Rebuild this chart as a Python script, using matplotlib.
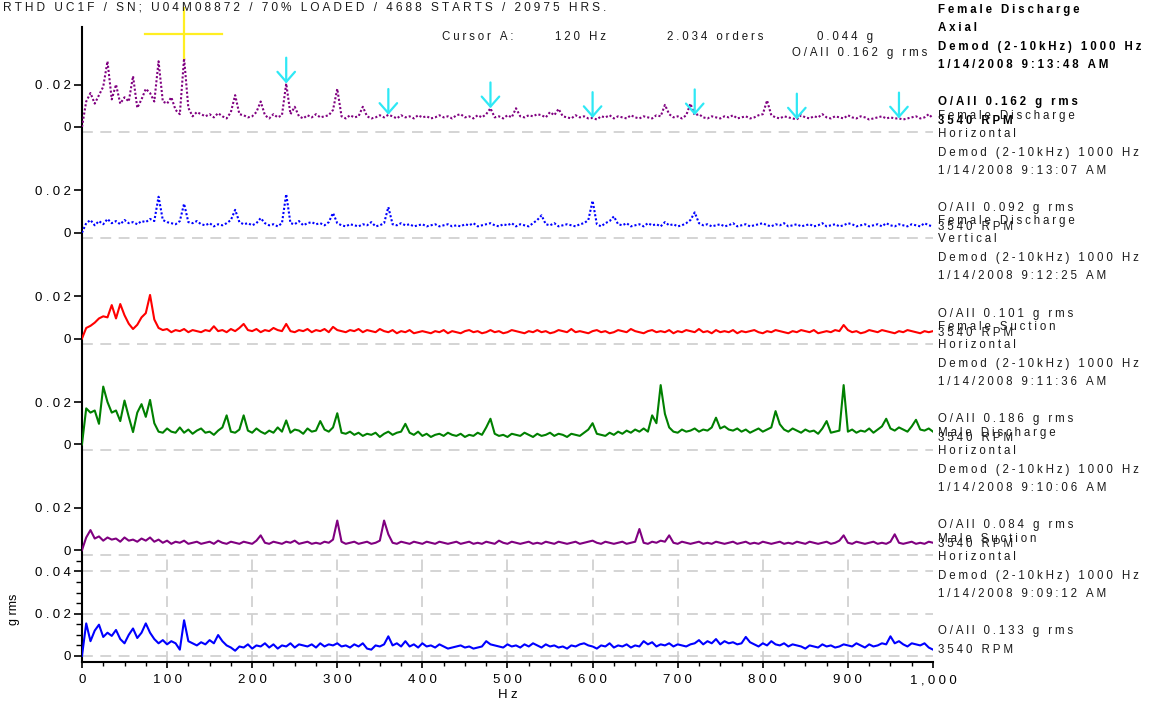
import numpy as np
import matplotlib
matplotlib.use('Agg')
import matplotlib.pyplot as plt

plt.rcParams.update({
    "font.family": ["Liberation Sans", "DejaVu Sans"],
    "font.size": 9,
    "axes.linewidth": 1.5,
})

# spectra amplitudes in units of 1e-4 g rms, 5 Hz lines from 0 to 1000 Hz
fd_axial = [
    0, 120, 160, 110, 150, 190, 310, 130, 200, 110, 140, 120, 240, 90, 130, 180, 160, 120, 310, 120,
    110, 140, 80, 60, 325, 90, 50, 70, 60, 50, 60, 45, 65, 50, 40, 70, 150, 60, 55, 45,
    50, 70, 120, 55, 40, 60, 45, 55, 205, 60, 95, 50, 40, 55, 45, 60, 45, 50, 55, 80,
    180, 50, 40, 55, 45, 50, 95, 50, 40, 45, 55, 45, 57, 50, 40, 55, 45, 50, 40, 55,
    45, 50, 40, 45, 55, 45, 50, 40, 55, 60, 45, 50, 40, 55, 45, 60, 88, 45, 50, 40,
    55, 45, 88, 50, 45, 55, 50, 60, 55, 45, 70, 55, 85, 50, 45, 40, 55, 45, 50, 40,
    42, 35, 50, 45, 55, 40, 50, 45, 40, 55, 45, 40, 50, 45, 40, 55, 50, 104, 60, 45,
    50, 40, 55, 110, 55, 60, 45, 40, 50, 45, 40, 50, 45, 55, 40, 45, 50, 40, 45, 55,
    60, 125, 55, 45, 40, 50, 45, 40, 35, 55, 45, 40, 50, 45, 60, 45, 40, 50, 45, 40,
    55, 45, 40, 50, 45, 35, 40, 45, 50, 40, 45, 40, 40, 35, 40, 45, 50, 40, 45, 60,
    40,
]
fd_horiz = [
    0, 45, 60, 35, 55, 40, 65, 45, 55, 40, 60, 45, 50, 40, 55, 50, 65, 55, 170, 60,
    50, 45, 40, 55, 137, 50, 45, 55, 40, 35, 45, 30, 40, 35, 45, 60, 108, 50, 40, 45,
    35, 45, 69, 45, 35, 40, 30, 45, 182, 45, 40, 55, 35, 45, 50, 40, 45, 35, 50, 93,
    45, 35, 30, 40, 35, 30, 40, 35, 50, 30, 35, 45, 121, 40, 35, 45, 35, 40, 30, 35,
    40, 30, 35, 40, 30, 35, 40, 30, 35, 30, 40, 35, 45, 30, 35, 40, 45, 35, 30, 40,
    35, 45, 30, 40, 35, 30, 45, 60, 82, 40, 35, 45, 30, 35, 40, 35, 30, 40, 45, 60,
    151, 40, 30, 45, 55, 77, 40, 35, 45, 30, 35, 40, 30, 45, 35, 40, 30, 50, 35, 40,
    30, 35, 45, 60, 96, 45, 35, 40, 30, 35, 40, 30, 35, 45, 30, 35, 40, 30, 35, 40,
    45, 35, 30, 40, 35, 45, 30, 35, 40, 30, 35, 40, 30, 35, 45, 30, 35, 40, 30, 35,
    45, 40, 30, 35, 40, 30, 35, 40, 30, 45, 35, 30, 40, 35, 30, 40, 35, 30, 45, 35,
    30,
]
fd_vert = [
    0, 50, 60, 75, 95, 105, 100, 158, 95, 163, 110, 70, 45, 65, 100, 120, 206, 90, 50, 40,
    45, 30, 40, 35, 45, 30, 40, 35, 30, 40, 35, 58, 35, 40, 30, 45, 35, 50, 69, 40,
    35, 45, 30, 40, 35, 50, 40, 35, 69, 35, 30, 40, 35, 45, 30, 40, 35, 45, 30, 55,
    40, 35, 30, 40, 35, 45, 30, 40, 35, 30, 45, 35, 30, 40, 25, 35, 30, 40, 25, 30,
    35, 30, 25, 35, 30, 40, 25, 35, 30, 25, 35, 40, 30, 35, 25, 30, 40, 30, 35, 25,
    30, 40, 35, 30, 25, 35, 30, 40, 30, 35, 25, 30, 40, 35, 30, 45, 30, 35, 30, 25,
    35, 40, 30, 35, 25, 30, 40, 35, 30, 45, 35, 30, 25, 35, 40, 30, 35, 30, 40, 25,
    35, 30, 40, 35, 30, 45, 30, 35, 25, 40, 30, 35, 30, 40, 25, 35, 30, 35, 40, 30,
    25, 35, 30, 40, 35, 30, 25, 35, 30, 40, 35, 30, 40, 25, 30, 35, 30, 40, 35, 64,
    40, 30, 35, 25, 30, 40, 35, 30, 40, 35, 30, 25, 35, 30, 40, 35, 30, 25, 35, 30,
    35,
]
fs_horiz = [
    0, 170, 150, 160, 97, 273, 200, 150, 160, 110, 207, 130, 58, 150, 190, 130, 210, 100, 60, 55,
    75, 60, 55, 80, 55, 70, 50, 65, 75, 55, 60, 45, 65, 80, 137, 60, 55, 70, 137, 65,
    55, 75, 60, 50, 65, 55, 80, 60, 113, 55, 70, 65, 50, 75, 60, 65, 110, 70, 60, 80,
    147, 55, 50, 60, 45, 55, 40, 50, 45, 55, 35, 50, 60, 45, 55, 60, 97, 55, 45, 60,
    40, 50, 35, 45, 50, 40, 55, 45, 40, 50, 35, 45, 40, 55, 45, 80, 121, 50, 40, 45,
    35, 50, 45, 40, 55, 45, 35, 50, 40, 45, 55, 40, 50, 45, 35, 50, 45, 40, 55, 70,
    100, 50, 45, 40, 55, 45, 60, 50, 65, 55, 70, 60, 75, 60, 137, 100, 280, 144, 80, 60,
    55, 70, 60, 65, 75, 60, 70, 65, 80, 126, 75, 85, 70, 65, 75, 60, 70, 55, 65, 75,
    60, 70, 80, 157, 95, 70, 60, 75, 65, 55, 70, 60, 65, 50, 75, 110, 55, 60, 65, 280,
    60, 70, 55, 65, 60, 75, 55, 70, 85, 121, 75, 65, 80, 70, 60, 85, 116, 70, 65, 75,
    60,
]
md_horiz = [
    0, 60, 95, 55, 65, 45, 60, 50, 55, 40, 60, 45, 50, 40, 55, 45, 60, 40, 50, 35,
    45, 30, 40, 35, 45, 30, 35, 40, 30, 35, 40, 30, 45, 35, 30, 40, 35, 30, 40, 35,
    30, 45, 70, 35, 30, 40, 35, 30, 40, 35, 45, 30, 35, 40, 30, 35, 30, 40, 35, 50,
    140, 40, 30, 35, 40, 30, 35, 40, 30, 35, 45, 140, 75, 35, 30, 40, 35, 30, 40, 35,
    30, 40, 35, 30, 40, 35, 30, 35, 40, 30, 35, 40, 30, 35, 30, 40, 35, 30, 45, 35,
    30, 40, 35, 30, 35, 40, 30, 35, 30, 40, 35, 30, 40, 35, 30, 35, 40, 30, 35, 40,
    45, 35, 30, 40, 35, 30, 35, 40, 30, 35, 40, 100, 35, 30, 40, 35, 45, 40, 70, 35,
    30, 40, 35, 30, 35, 40, 30, 35, 30, 40, 35, 30, 35, 40, 30, 35, 40, 30, 35, 30,
    40, 35, 30, 35, 40, 30, 35, 30, 40, 35, 30, 40, 35, 30, 35, 40, 30, 35, 45, 70,
    35, 30, 40, 35, 30, 35, 40, 30, 35, 30, 40, 75, 35, 30, 35, 40, 30, 35, 30, 40,
    35,
]
ms_horiz = [
    0, 154, 70, 120, 148, 90, 110, 95, 123, 80, 60, 100, 130, 85, 110, 154, 110, 80, 60, 75,
    55, 70, 60, 30, 169, 70, 60, 50, 65, 55, 75, 60, 99, 70, 50, 40, 25, 45, 40, 55,
    35, 50, 45, 60, 40, 55, 35, 50, 45, 60, 40, 55, 50, 45, 55, 40, 60, 45, 55, 50,
    60, 45, 50, 40, 55, 45, 60, 35, 30, 50, 45, 55, 93, 50, 60, 45, 70, 45, 55, 40,
    60, 45, 50, 40, 55, 45, 35, 40, 45, 50, 40, 45, 35, 40, 45, 70, 55, 50, 45, 40,
    55, 45, 50, 40, 55, 45, 60, 50, 40, 55, 45, 50, 40, 45, 35, 50, 45, 55, 60, 50,
    45, 35, 50, 45, 60, 40, 50, 45, 55, 40, 50, 45, 70, 55, 65, 45, 55, 50, 60, 45,
    55, 50, 45, 55, 60, 75, 55, 70, 60, 80, 55, 70, 60, 65, 55, 60, 90, 65, 55, 45,
    60, 50, 70, 55, 50, 60, 45, 55, 50, 45, 35, 50, 45, 40, 55, 45, 50, 40, 45, 55,
    50, 45, 60, 50, 40, 55, 45, 50, 60, 55, 93, 60, 70, 55, 45, 60, 55, 50, 60, 40,
    30,
]

# top to bottom
spectra = [fd_axial, fd_horiz, fd_vert, fs_horiz, md_horiz, ms_horiz]
names = ["Female Discharge", "Female Discharge", "Female Discharge",
         "Female Suction", "Male Discharge", "Male Suction"]
directions = ["Axial", "Horizontal", "Vertical", "Horizontal", "Horizontal", "Horizontal"]
times = ["1/14/2008 9:13:48 AM", "1/14/2008 9:13:07 AM", "1/14/2008 9:12:25 AM",
         "1/14/2008 9:11:36 AM", "1/14/2008 9:10:06 AM", "1/14/2008 9:09:12 AM"]
overall = [0.162, 0.092, 0.101, 0.186, 0.084, 0.133]
colors = ["#800080", "#0000ff", "#ff0000", "#008000", "#800080", "#0000ff"]
dotted = [True, True, False, False, False, False]

cursor_hz = 120
cursor_g = 0.044
cursor_orders = 2.034
harmonics = [240, 360, 480, 600, 720, 840, 960]

title = "RTHD UC1F / SN; U04M08872 / 70% LOADED / 4688 STARTS / 20975 HRS."
demod = "Demod (2-10kHz) 1000 Hz"
rpm = "3540 RPM"

step = 0.05      # vertical spacing between stacked spectra
GAP = "\u2005"   # letter spacing of the analyzer font


def spaced(s):
    return GAP.join(s)


freq = np.arange(0, 1001, 5)
n = len(spectra)

fig = plt.figure(figsize=(11.56, 7.05), dpi=100)
ax = fig.add_axes([0.0709, 0.0614, 0.7362, 0.9003])
ax.set_xlim(0, 1000)
ax.set_ylim(-0.0027, 0.2972)

grid_kw = dict(color="#cdcdcd", lw=1.2, linestyle=(0, (6.5, 4.5)), zorder=1)

# bottom panel grid
for g in (0, 0.02, 0.04):
    ax.axhline(g, **grid_kw)
ax.vlines(np.arange(100, 1000, 100), -0.0027, step - 0.0025, **grid_kw)

for k, vals in enumerate(spectra):
    off = (n - 1 - k) * step
    y = np.asarray(vals) * 1e-4 + off
    ls = (0, (1, 1)) if dotted[k] else "-"
    ax.plot(freq, y, color=colors[k], lw=1.5, ls=ls, zorder=3)
    if k < n - 1:
        ax.axhline(off - 0.0025, **grid_kw)

    # channel description column
    bold = k == 0
    kw = dict(fontsize=8.3, color="black" if bold else "#1a1a1a",
              fontweight="bold" if bold else "normal",
              va="baseline", ha="left", clip_on=False)
    x_txt = 1006
    ax.text(x_txt, off + 0.0539, spaced(names[k]), **kw)
    ax.text(x_txt, off + 0.0454, spaced(directions[k]), **kw)
    ax.text(x_txt, off + 0.0364, spaced(demod), **kw)
    ax.text(x_txt, off + 0.0279, spaced(times[k]), **kw)
    ax.text(x_txt, off + 0.0104, spaced(f"O/All {overall[k]:.3f} g rms"), **kw)
    ax.text(x_txt, off + 0.0014, spaced(rpm), **kw)

# harmonic markers on the top spectrum
top_off = (n - 1) * step
top_vals = np.asarray(fd_axial) * 1e-4
for h in harmonics:
    v = np.interp(h, freq, top_vals) + top_off
    ax.annotate("", xy=(h, v), xytext=(h, v + 0.0122),
                arrowprops=dict(arrowstyle="->,head_length=0.8,head_width=0.7",
                                color="#2ee8f5", lw=1.6, shrinkA=0, shrinkB=0),
                zorder=5)

# cursor cross
peak = np.interp(cursor_hz, freq, top_vals) + top_off
ax.plot([cursor_hz, cursor_hz], [peak, 0.3062], color="#ffee22", lw=1.6,
        clip_on=False, zorder=6)
ax.plot([cursor_hz - 46, cursor_hz + 44], [top_off + cursor_g] * 2,
        color="#ffee22", lw=1.6, clip_on=False, zorder=6)

ckw = dict(fontsize=8.3, color="#1a1a1a", va="baseline")
ax.text(423, 0.2911, spaced("Cursor A:"), ha="left", **ckw)
ax.text(556, 0.2911, spaced(f"{cursor_hz} Hz"), ha="left", **ckw)
ax.text(687, 0.2911, spaced(f"{cursor_orders:.3f} orders"), ha="left", **ckw)
ax.text(864, 0.2911, spaced(f"{cursor_g:.3f} g"), ha="left", **ckw)
ax.text(993, 0.2836, spaced(f"O/All {overall[0]:.3f} g rms"), ha="right", **ckw)

fig.text(0.003, 1 - 11 / 705, spaced(title), fontsize=8.6, color="#1a1a1a",
         va="baseline", ha="left")

# axes styling
for side in ("top", "right"):
    ax.spines[side].set_visible(False)

yt, yl = [], []
for k in range(n):
    off = (n - 1 - k) * step
    levels = [0, 0.02, 0.04] if k == n - 1 else [0, 0.02]
    for lv in levels:
        yt.append(off + lv)
        yl.append(spaced("0" if lv == 0 else f"{lv:.2f}"))
ax.set_yticks(yt, yl)
ax.set_yticks(np.arange(0.005, 0.046, 0.005), minor=True)

xt = np.arange(0, 1001, 100)
ax.set_xticks(xt, [spaced(f"{v:,}") for v in xt])
ax.set_xticks(np.arange(0, 1001, 25), minor=True)

ax.tick_params(axis="both", which="major", labelsize=9.5, color="black")
ax.tick_params(axis="y", which="major", length=6, width=1.2, pad=2)
ax.tick_params(axis="y", which="minor", length=4, width=1.0)
ax.tick_params(axis="x", which="major", length=4, width=1.2, pad=5)
ax.tick_params(axis="x", which="minor", length=3, width=1.0)

ax.set_xlabel(spaced("Hz"), fontsize=9.5, labelpad=2)
fig.text(0.012, 1 - 609 / 705, "g rms", rotation=90, fontsize=9,
         va="center", ha="center")

fig.savefig("out.png", dpi=100)
